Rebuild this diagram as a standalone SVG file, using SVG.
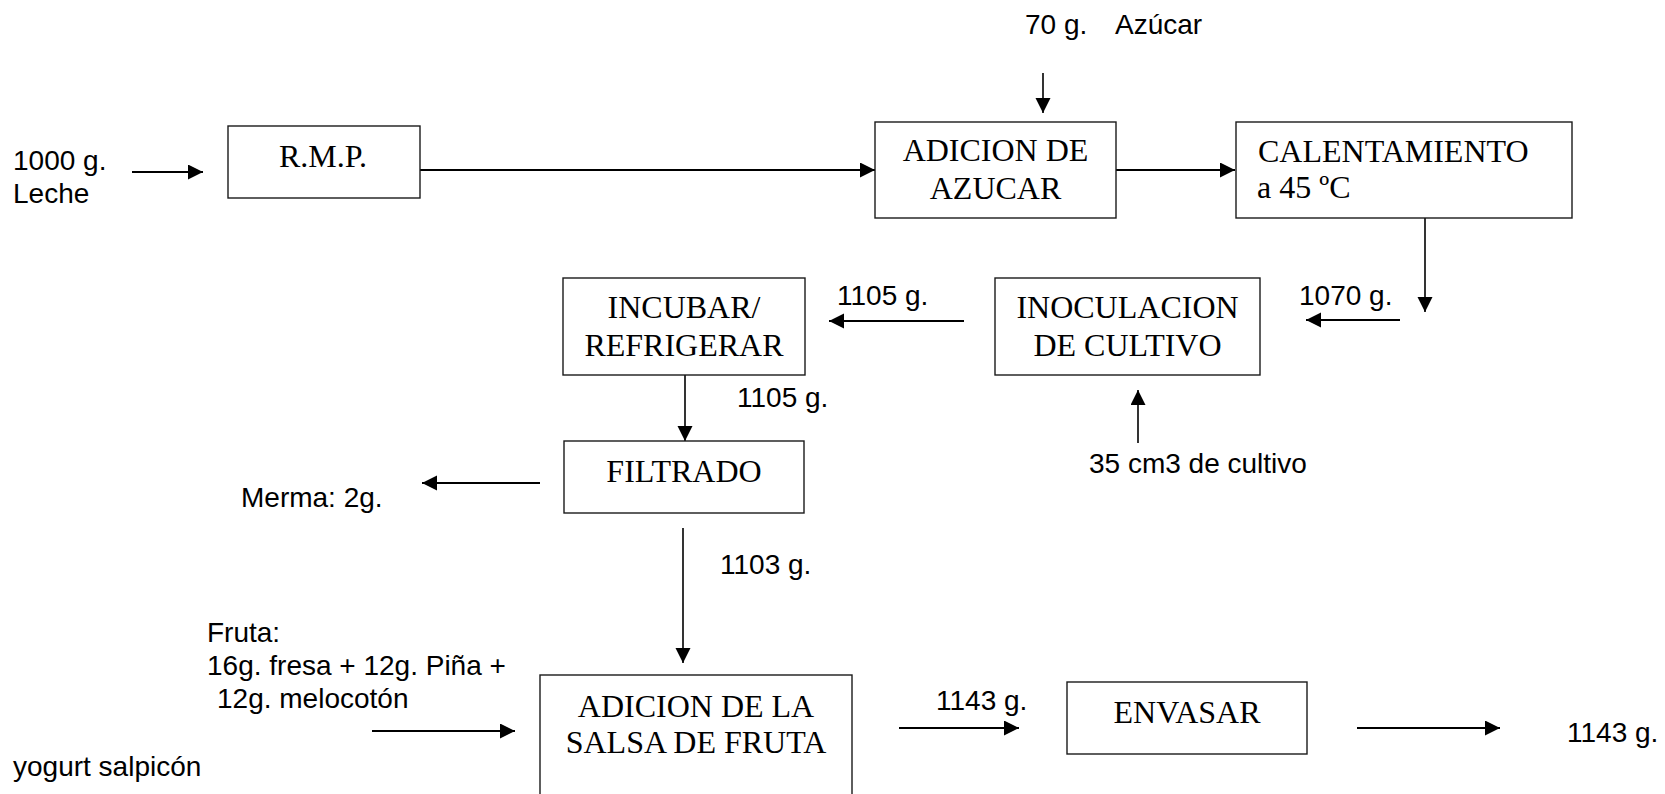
<svg xmlns="http://www.w3.org/2000/svg" width="1665" height="794" viewBox="0 0 1665 794">
<style>
.box{fill:#fff;stroke:#1a1a1a;stroke-width:1.4}
.t{font-family:"Liberation Serif","Times New Roman",serif;font-size:32px;fill:#000}
.c{text-anchor:middle}
.l{font-family:"Liberation Sans",Arial,sans-serif;font-size:28px;fill:#000}
.ln{stroke:#000;stroke-width:2.2;fill:none}
.th{stroke-width:1.6}
</style>
<defs>
<marker id="ah" markerUnits="userSpaceOnUse" markerWidth="16" markerHeight="16" refX="15" refY="7.5" orient="auto">
<path d="M0,0 L15,7.5 L0,15 Z" fill="#000"/>
</marker>
</defs>
<rect width="1665" height="794" fill="#fff"/>
<g id="connectors">
<line class="ln" x1="132" y1="172" x2="203" y2="172" marker-end="url(#ah)"/>
<line class="ln" x1="420" y1="170" x2="875" y2="170" marker-end="url(#ah)"/>
<line class="ln th" x1="1043" y1="73" x2="1043" y2="113" marker-end="url(#ah)"/>
<line class="ln" x1="1116" y1="170" x2="1235" y2="170" marker-end="url(#ah)"/>
<line class="ln th" x1="1425" y1="218" x2="1425" y2="312" marker-end="url(#ah)"/>
<line class="ln" x1="1400" y1="320" x2="1306" y2="320" marker-end="url(#ah)"/>
<line class="ln" x1="964" y1="321" x2="829" y2="321" marker-end="url(#ah)"/>
<line class="ln th" x1="1138" y1="443" x2="1138" y2="390" marker-end="url(#ah)"/>
<line class="ln th" x1="685" y1="375" x2="685" y2="441" marker-end="url(#ah)"/>
<line class="ln" x1="540" y1="483" x2="422" y2="483" marker-end="url(#ah)"/>
<line class="ln th" x1="683" y1="528" x2="683" y2="663" marker-end="url(#ah)"/>
<line class="ln" x1="372" y1="731" x2="515" y2="731" marker-end="url(#ah)"/>
<line class="ln" x1="899" y1="728" x2="1019" y2="728" marker-end="url(#ah)"/>
<line class="ln" x1="1357" y1="728" x2="1500" y2="728" marker-end="url(#ah)"/>
</g>
<g id="rmp">
<rect class="box" x="228" y="126" width="192" height="72"/>
<text class="t c" x="323" y="167">R.M.P.</text>
</g>
<g id="adicion-azucar">
<rect class="box" x="875" y="122" width="241" height="96"/>
<text class="t c" x="995.5" y="161">ADICION DE</text>
<text class="t c" x="995.5" y="199">AZUCAR</text>
</g>
<g id="calentamiento">
<rect class="box" x="1236" y="122" width="336" height="96"/>
<text class="t" x="1258" y="162">CALENTAMIENTO</text>
<text class="t" x="1257" y="198">a 45 ºC</text>
</g>
<g id="inoculacion">
<rect class="box" x="995" y="278" width="265" height="97"/>
<text class="t c" x="1127.5" y="318">INOCULACION</text>
<text class="t c" x="1127.5" y="356">DE CULTIVO</text>
</g>
<g id="incubar">
<rect class="box" x="563" y="278" width="242" height="97"/>
<text class="t c" x="684" y="318">INCUBAR/</text>
<text class="t c" x="684" y="356">REFRIGERAR</text>
</g>
<g id="filtrado">
<rect class="box" x="564" y="441" width="240" height="72"/>
<text class="t c" x="684" y="482">FILTRADO</text>
</g>
<g id="adicion-salsa">
<rect class="box" x="540" y="675" width="312" height="130"/>
<text class="t c" x="696" y="717">ADICION DE LA</text>
<text class="t c" x="696" y="753">SALSA DE FRUTA</text>
</g>
<g id="envasar">
<rect class="box" x="1067" y="682" width="240" height="72"/>
<text class="t c" x="1187" y="723">ENVASAR</text>
</g>
<g id="labels">
<text class="l" x="13" y="170">1000 g.</text>
<text class="l" x="13" y="203">Leche</text>
<text class="l" y="34"><tspan x="1025">70 g.</tspan><tspan x="1115">Azúcar</tspan></text>
<text class="l" x="1299" y="305">1070 g.</text>
<text class="l" x="837" y="305">1105 g.</text>
<text class="l" x="737" y="407">1105 g.</text>
<text class="l" x="1089" y="473">35 cm3 de cultivo</text>
<text class="l" x="241" y="507">Merma: 2g.</text>
<text class="l" x="720" y="574">1103 g.</text>
<text class="l" x="207" y="642">Fruta:</text>
<text class="l" x="207" y="675">16g. fresa + 12g. Piña +</text>
<text class="l" x="217" y="708">12g. melocotón</text>
<text class="l" x="13" y="776">yogurt salpicón</text>
<text class="l" x="936" y="710">1143 g.</text>
<text class="l" x="1567" y="742">1143 g.</text>
</g>
</svg>
